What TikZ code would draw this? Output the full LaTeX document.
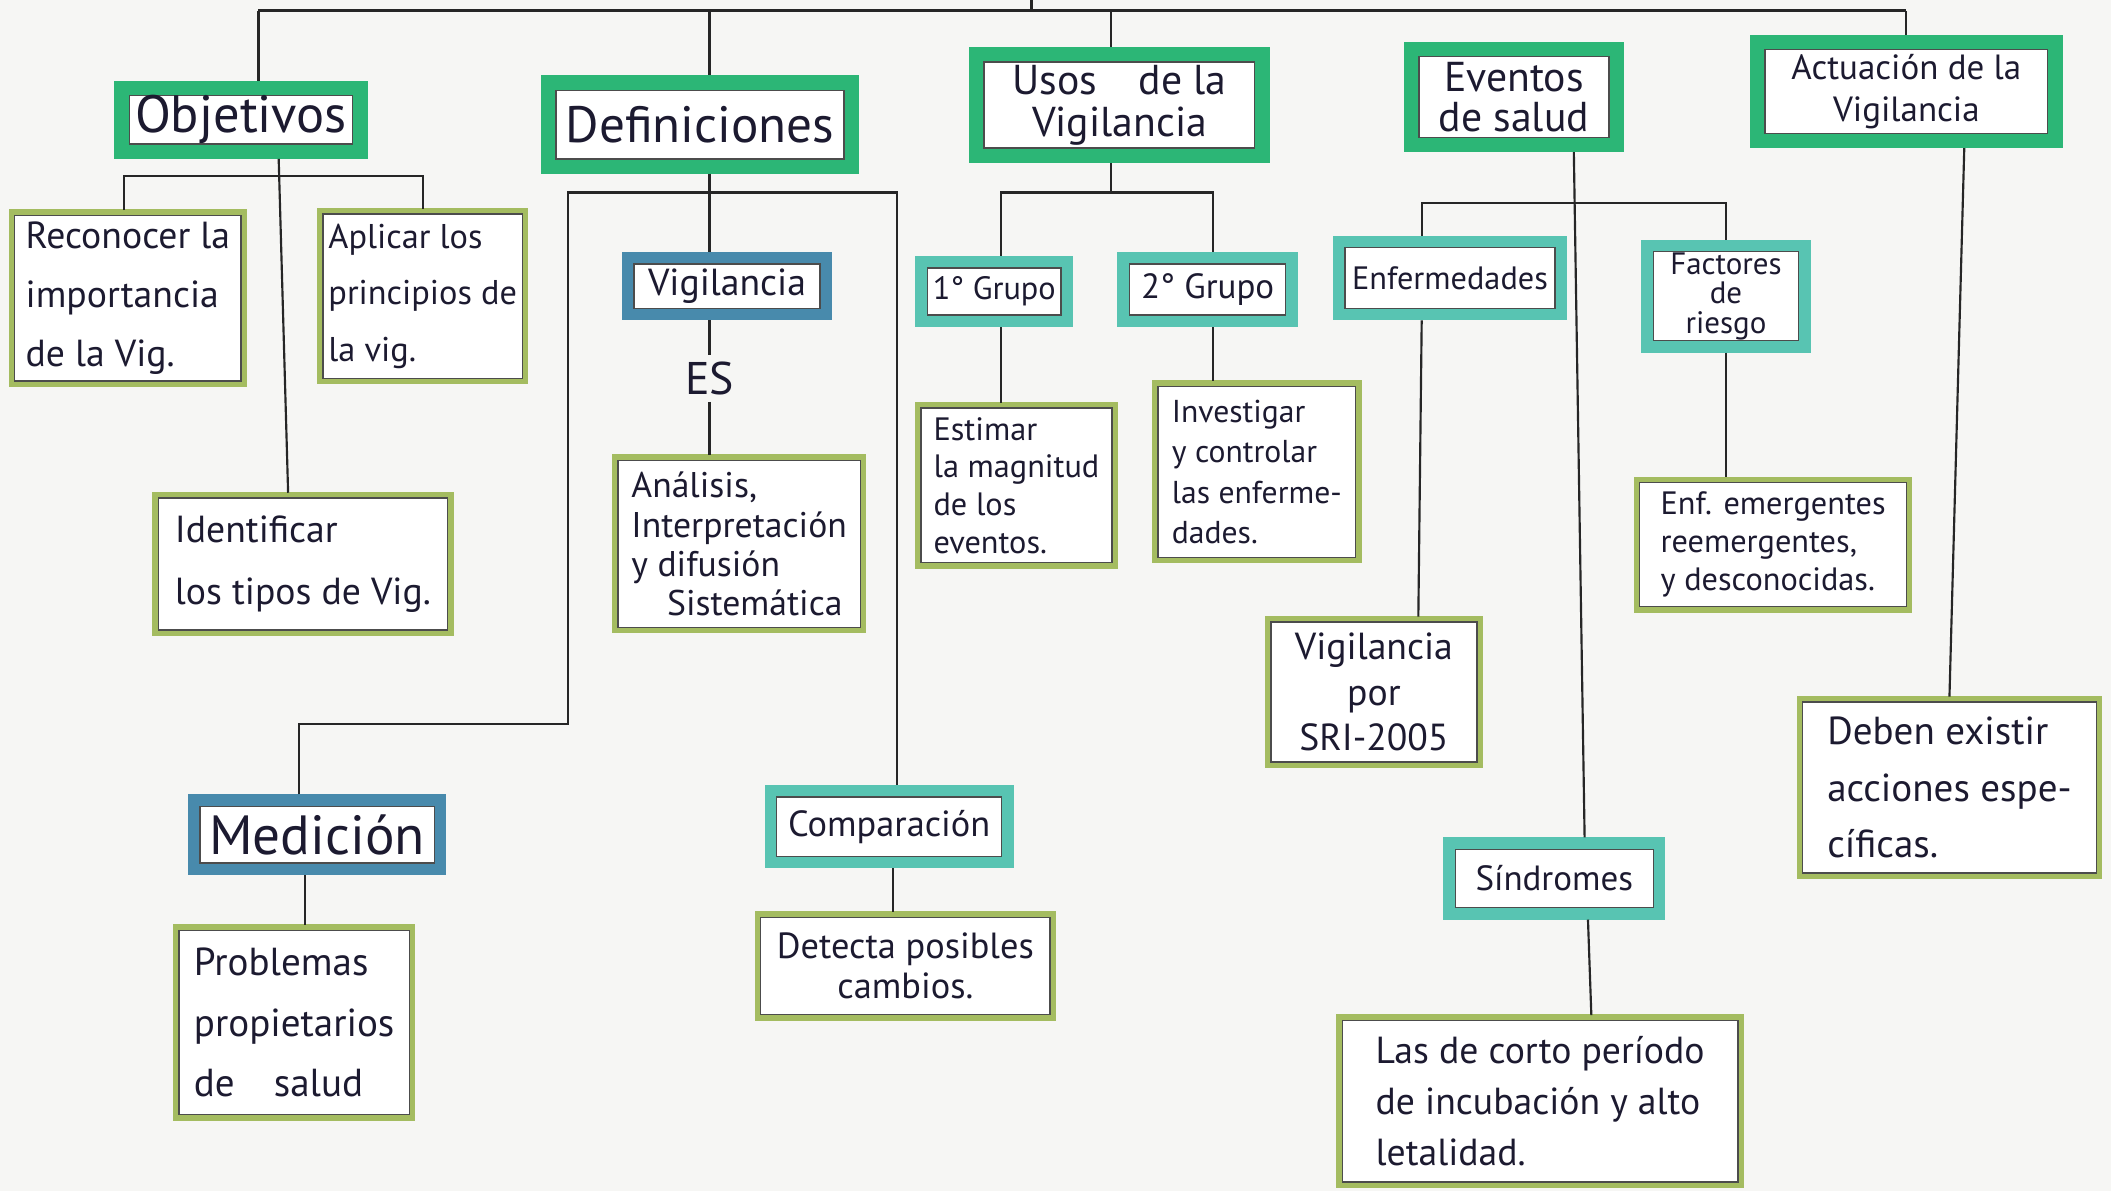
\documentclass[tikz,border=0pt]{standalone}
\usepackage{fontspec}
\setmainfont{PT Sans}
\usepackage{xcolor}
\usepackage{tikz}
\usetikzlibrary{positioning}

\definecolor{papel}{RGB}{246,246,244}
\definecolor{tinta}{RGB}{28,26,48}
\definecolor{verde}{RGB}{44,182,118}
\definecolor{turquesa}{RGB}{88,196,178}
\definecolor{azulv}{RGB}{72,138,172}
\definecolor{oliva}{RGB}{164,188,96}

\begin{document}
\begin{tikzpicture}[x=1pt, y=-1pt, text=tinta,
    marco/.style={fill=white, draw=black!70, line width=1pt, inner sep=0pt},
    tema/.style={marco, outer sep=11pt, align=center,
        preaction={draw=verde, line width=22pt}},
    grupo/.style={marco, outer sep=9pt, align=center,
        preaction={draw=turquesa, line width=18pt}},
    medida/.style={marco, outer sep=9pt, align=center,
        preaction={draw=azulv, line width=18pt}},
    hoja/.style={marco, outer sep=4pt, align=left,
        preaction={draw=oliva, line width=9pt}},
    rama/.style={draw=black!85, line width=1.6pt},
    barra/.style={rama, line width=2.2pt}]

	\useasboundingbox[fill=papel] (0,0) rectangle (1568,885);

	% temas principales
	\node[tema, minimum width=166pt, minimum height=34pt, font=\fontsize{39}{40}\selectfont] (obj) at (179,89) {Objetivos};
	\node[tema, minimum width=214pt, minimum height=51pt, font=\fontsize{38}{40}\selectfont] (def) at (520,92.5) {Definiciones};
	\node[tema, minimum width=201pt, minimum height=64pt, font=\fontsize{31}{31}\selectfont] (usos) at (831.5,78) {Usos\quad de la\\Vigilancia};
	\node[tema, minimum width=141pt, minimum height=60pt, font=\fontsize{31}{30}\selectfont] (ev) at (1124.5,72) {Eventos\\de salud};
	\node[tema, minimum width=210pt, minimum height=62pt, font=\fontsize{26}{31}\selectfont] (act) at (1416,68) {Actuación de la\\Vigilancia};

	% objetivos
	\node[hoja, minimum width=168pt, minimum height=123pt, font=\fontsize{28}{44}\selectfont] (rec) at (95,221.5) {Reconocer la\\importancia\\de la Vig.};
	\node[hoja, minimum width=148pt, minimum height=122pt, font=\fontsize{25.5}{42}\selectfont] (apl) at (314,220) {Aplicar los\\principios de\\la vig.};
	\node[hoja, minimum width=215pt, minimum height=98pt, font=\fontsize{28}{46}\selectfont] (ide) at (225,419) {Identificar\\los tipos de Vig.};

	% definiciones
	\node[medida, minimum width=138pt, minimum height=33pt, font=\fontsize{28}{30}\selectfont] (vig) at (540,212.5) {Vigilancia};
	\node[inner sep=5pt, font=\fontsize{34}{34}\selectfont] (es) at (527,281) {ES};
	\node[hoja, minimum width=180pt, minimum height=124pt, font=\fontsize{26.5}{29}\selectfont] (ana) at (549,404) {Análisis,\\Interpretación\\y difusión\\\quad Sistemática};
	\node[medida, minimum width=174pt, minimum height=42pt, font=\fontsize{41}{42}\selectfont] (med) at (235.5,620) {Medición};
	\node[hoja, minimum width=171pt, minimum height=137pt, font=\fontsize{29}{45}\selectfont] (pro) at (218.5,759.5) {Problemas\\propietarios\\de\quad salud};
	\node[grupo, minimum width=167pt, minimum height=44pt, font=\fontsize{27}{30}\selectfont] (com) at (660.5,614) {Comparación};
	\node[hoja, align=center, minimum width=215pt, minimum height=72pt, font=\fontsize{27}{30}\selectfont] (det) at (672.5,717.5) {Detecta posibles\\cambios.};

	% usos
	\node[grupo, minimum width=99pt, minimum height=35pt, font=\fontsize{24}{28}\selectfont] (g1) at (738.5,216.5) {1° Grupo};
	\node[grupo, minimum width=116pt, minimum height=38pt, font=\fontsize{26}{28}\selectfont] (g2) at (897,215) {2° Grupo};
	\node[hoja, minimum width=142pt, minimum height=115pt, font=\fontsize{24}{28}\selectfont] (est) at (755,360.5) {Estimar\\la magnitud\\de los\\eventos.};
	\node[hoja, minimum width=147pt, minimum height=127pt, font=\fontsize{23.5}{30}\selectfont] (inv) at (933.5,350.5) {Investigar\\y controlar\\las enferme-\\dades.};

	% eventos
	\node[grupo, minimum width=156pt, minimum height=45pt, font=\fontsize{24}{28}\selectfont] (enf) at (1077,206.5) {Enfermedades};
	\node[grupo, minimum width=108pt, minimum height=66pt, font=\fontsize{23}{22}\selectfont] (fac) at (1282,220) {Factores\\de\\riesgo};
	\node[hoja, align=center, minimum width=153pt, minimum height=104pt, font=\fontsize{28}{34}\selectfont] (sri) at (1020.5,514) {Vigilancia\\por\\SRI-2005};
	\node[hoja, minimum width=198pt, minimum height=92pt, font=\fontsize{24}{28}\selectfont] (emg) at (1317,404.5) {Enf. emergentes\\reemergentes,\\y desconocidas.};
	\node[grupo, minimum width=147pt, minimum height=43pt, font=\fontsize{26}{28}\selectfont] (sin) at (1154.5,652.5) {Síndromes};
	\node[hoja, minimum width=294pt, minimum height=120pt, font=\fontsize{28}{38}\selectfont] (cor) at (1144,818) {Las de corto período\\de incubación y alto\\letalidad.};

	% actuacion
	\node[hoja, minimum width=218pt, minimum height=127pt, font=\fontsize{29}{42}\selectfont] (deb) at (1448,585) {Deben existir\\acciones espe-\\cíficas.};

	% barra superior
	\coordinate (tope) at (766,0);
	\coordinate (cima) at (766,8);
	\coordinate (jobj) at (192,8);
	\coordinate (jdef) at (527,8);
	\coordinate (jusos) at (825,8);
	\coordinate (jact) at (1416,8);
	\draw[barra] (jobj) -- (jact);
	\draw[barra] (cima) -- (tope);
	\draw[rama] (jobj) -- ([xshift=13pt]obj.north);
	\draw[rama] (jdef) -- ([xshift=7pt]def.north);
	\draw[rama] (jusos) -- ([xshift=-6.5pt]usos.north);
	\draw[rama] (jact) -- (act.north);

	% ramas de objetivos
	\coordinate (bobj) at (200,131);
	\draw[rama] ([xshift=-3pt]rec.north) |- (bobj) -| (apl.north);
	\draw[rama] ([xshift=28pt]obj.south) -- ([xshift=-11pt]ide.north);

	% ramas de definiciones
	\coordinate (bdef) at (527,143);
	\coordinate (codo) at (422,538);
	\draw[rama] ([xshift=7pt]def.south) -- ([xshift=-13pt]vig.north);
	\draw[rama] ([xshift=-13.5pt]med.north) |- (codo) |- (bdef) -| ([xshift=6pt]com.north);
	\draw[rama] ([xshift=-13pt]vig.south) -- (es);
	\draw[rama] (es) -- ([xshift=-22pt]ana.north);
	\draw[rama] ([xshift=2.5pt]com.south) -- ([xshift=-9.5pt]det.north);
	\draw[rama] ([xshift=-9pt]med.south) -- ([xshift=8pt]pro.north);

	% ramas de usos
	\coordinate (busos) at (825,143);
	\draw[rama] ([xshift=-6.5pt]usos.south) -- (busos);
	\draw[rama] ([xshift=5pt]g1.north) |- (busos) -| ([xshift=4pt]g2.north);
	\draw[rama] ([xshift=5pt]g1.south) -- ([xshift=-11.5pt]est.north);
	\draw[rama] ([xshift=4pt]g2.south) -- ([xshift=-32.5pt]inv.north);

	% ramas de eventos
	\coordinate (bev) at (1170,151);
	\draw[rama] ([xshift=44.5pt]ev.south) -- ([xshift=22.5pt]sin.north);
	\draw[rama] ([xshift=-21pt]enf.north) |- (bev) -| (fac.north);
	\draw[rama] ([xshift=-21pt]enf.south) -- ([xshift=33pt]sri.north);
	\draw[rama] (fac.south) -- ([xshift=-35pt]emg.north);
	\draw[rama] ([xshift=25pt]sin.south) -- ([xshift=38pt]cor.north);

	% rama de actuacion
	\draw[rama] ([xshift=43pt]act.south) -- (deb.north);
\end{tikzpicture}
\end{document}
